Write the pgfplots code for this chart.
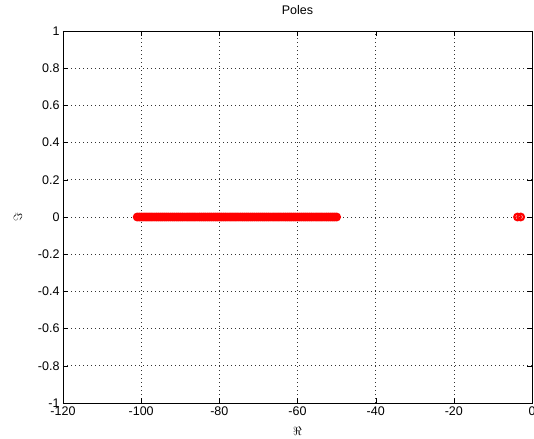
\documentclass[border=0pt]{standalone}
\usepackage{pgfplots}
\pgfplotsset{compat=1.18}
\usepackage{fontspec}
\setmainfont{Liberation Sans}
\begin{document}
\begin{tikzpicture}
\begin{axis}[
  scale only axis,
  width=469pt, height=372pt,
  xmin=-120, xmax=0, ymin=-1, ymax=1,
  xtick={-120,-100,...,0},
  ytick={-1,-0.8,...,1},
  /pgf/number format/assume math mode=true,
  yticklabel style={/pgf/number format/fixed, /pgf/number format/precision=1},
  tick label style={font=\fontsize{12.5}{15}\selectfont},
  title={Poles},
  title style={font=\fontsize{12.5}{15}\selectfont, at={(axis description cs:0.5,1)}, anchor=base, yshift=10pt},
  xlabel={$\Re$}, ylabel={$\Im$},
  xlabel style={font=\fontsize{12.5}{15}\selectfont, at={(axis description cs:0.5,0)}, anchor=center, yshift=-28pt},
  ylabel style={font=\fontsize{12.5}{15}\selectfont, at={(axis description cs:-0.096,0.5)}, anchor=center},
  grid=major, grid style={black!80, line width=0.6pt, dash pattern=on 0.8pt off 3.2pt},
  axis line style={black, line width=0.6pt},
  tick style={black},
  tick align=inside,
  major tick length=5pt,
]
\addplot[only marks, mark=o, mark size=3.3pt, draw=red, line width=2.2pt] coordinates {
(-101,0)(-100.5,0)(-100,0)(-99.5,0)(-99,0)(-98.5,0)(-98,0)(-97.5,0)(-97,0)(-96.5,0)
(-96,0)(-95.5,0)(-95,0)(-94.5,0)(-94,0)(-93.5,0)(-93,0)(-92.5,0)(-92,0)(-91.5,0)
(-91,0)(-90.5,0)(-90,0)(-89.5,0)(-89,0)(-88.5,0)(-88,0)(-87.5,0)(-87,0)(-86.5,0)
(-86,0)(-85.5,0)(-85,0)(-84.5,0)(-84,0)(-83.5,0)(-83,0)(-82.5,0)(-82,0)(-81.5,0)
(-81,0)(-80.5,0)(-80,0)(-79.5,0)(-79,0)(-78.5,0)(-78,0)(-77.5,0)(-77,0)(-76.5,0)
(-76,0)(-75.5,0)(-75,0)(-74.5,0)(-74,0)(-73.5,0)(-73,0)(-72.5,0)(-72,0)(-71.5,0)
(-71,0)(-70.5,0)(-70,0)(-69.5,0)(-69,0)(-68.5,0)(-68,0)(-67.5,0)(-67,0)(-66.5,0)
(-66,0)(-65.5,0)(-65,0)(-64.5,0)(-64,0)(-63.5,0)(-63,0)(-62.5,0)(-62,0)(-61.5,0)
(-61,0)(-60.5,0)(-60,0)(-59.5,0)(-59,0)(-58.5,0)(-58,0)(-57.5,0)(-57,0)(-56.5,0)
(-56,0)(-55.5,0)(-55,0)(-54.5,0)(-54,0)(-53.5,0)(-53,0)(-52.5,0)(-52,0)(-51.5,0)
(-51,0)(-50.5,0)(-50,0)
(-3.7,0)(-2.9,0)
};
\end{axis}
\pgfresetboundingbox
\path ([shift={(-63pt,-35pt)}]current axis.south west) rectangle ([shift={(2pt,31pt)}]current axis.north east);
\end{tikzpicture}
\end{document}
